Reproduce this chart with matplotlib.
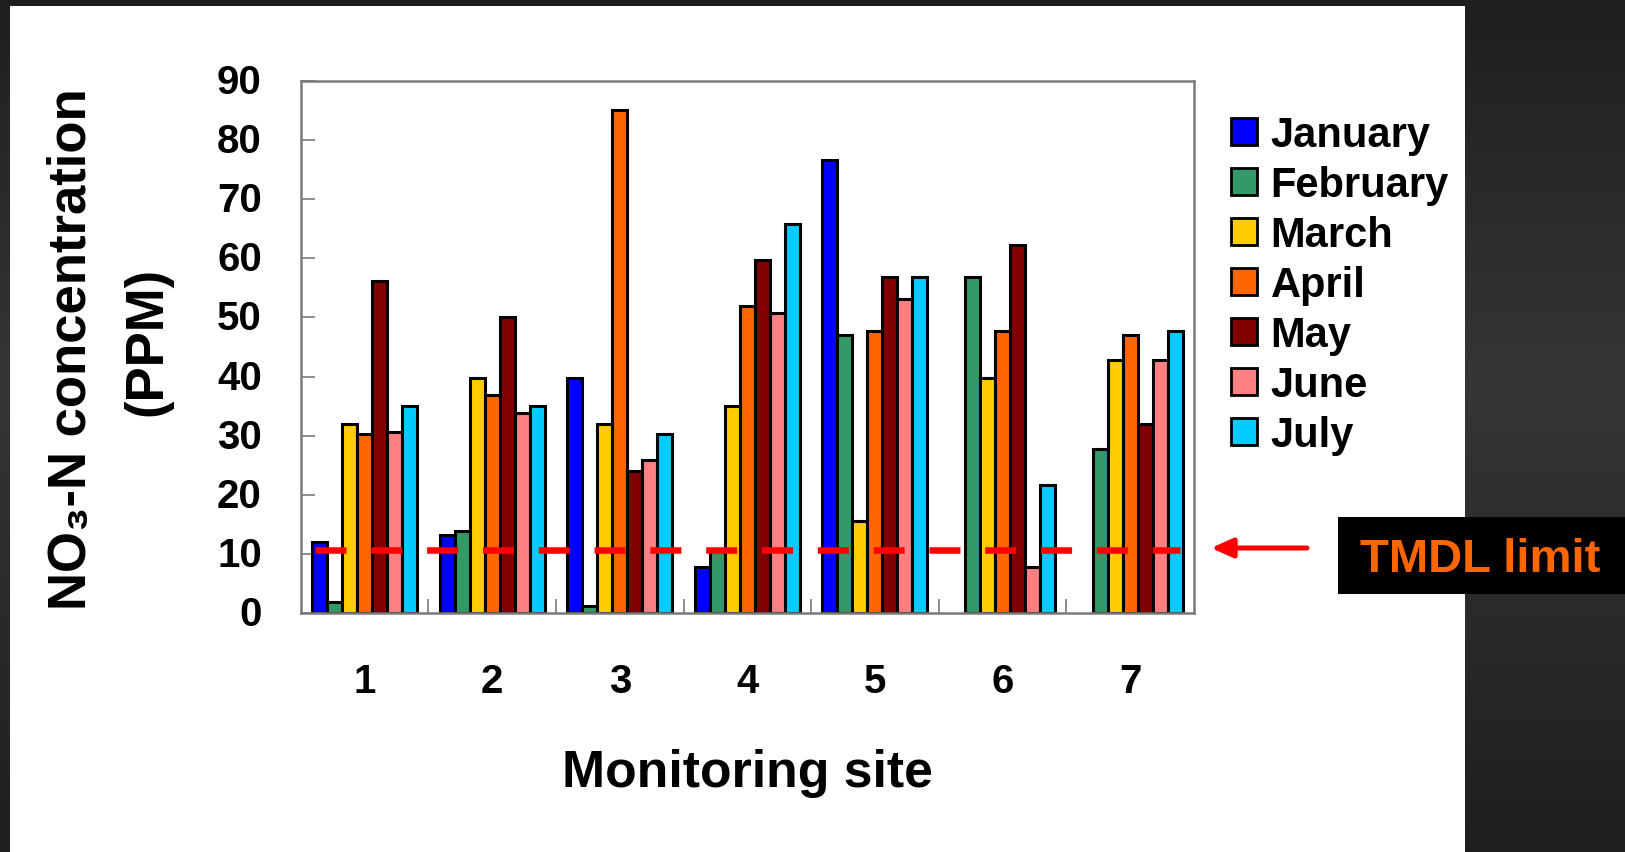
import numpy as np
import matplotlib
matplotlib.use("Agg")
import matplotlib.pyplot as plt
import matplotlib.patches as mpatches
from matplotlib.transforms import ScaledTranslation

# NO3-N readings (ppm) per monitoring site, one list per month
sites = ["1", "2", "3", "4", "5", "6", "7"]
months = ["January", "February", "March", "April", "May", "June", "July"]
jan = [12.0, 13.2, 39.8, 7.8, 76.7, np.nan, np.nan]
feb = [1.8, 13.8, 1.2, 10.6, 47.0, 56.8, 27.7]
mar = [32.0, 39.8, 32.0, 35.0, 15.5, 39.8, 42.8]
apr = [30.2, 36.8, 85.1, 51.9, 47.7, 47.7, 47.0]
may = [56.2, 50.1, 24.1, 59.8, 56.8, 62.2, 32.0]
jun = [30.7, 33.8, 25.9, 50.7, 53.1, 7.8, 42.8]
jul = [35.0, 35.0, 30.2, 65.8, 56.8, 21.7, 47.7]
series = [jan, feb, mar, apr, may, jun, jul]
colors = ["#0000FF", "#339966", "#FFCC00", "#FF6600", "#800000", "#FF8080", "#00CCFF"]
tmdl = 10.7
yticks = [0, 10, 20, 30, 40, 50, 60, 70, 80, 90]

W, H = 1625, 853
fig = plt.figure(figsize=(W / 100, H / 100), dpi=100)

# slide background: dark gradient with a white panel
bg = fig.add_axes([0, 0, 1, 1], zorder=-10)
rows = np.linspace(0, 1, 200)
shade = np.interp(rows, [0, 0.45, 1], [0.12, 0.21, 0.12])
grad = np.repeat(shade[:, None], 3, axis=1)[:, None, :]
bg.imshow(grad, aspect="auto", extent=[0, 1, 0, 1], origin="upper")
bg.add_patch(mpatches.Rectangle((10 / W, 0), (1465 - 10) / W, 1 - 7 / H,
                                facecolor="white", edgecolor="none"))
bg.set_xlim(0, 1)
bg.set_ylim(0, 1)
bg.axis("off")

ax = fig.add_axes([300.7 / W, 1 - 614 / H, (1194 - 300.7) / W, (614 - 82) / H])
ax.set_facecolor("none")

x = np.arange(1, len(sites) + 1)
width = 0.1175
for i, (vals, col, name) in enumerate(zip(series, colors, months)):
    ax.bar(x + (i - 3) * width, vals, width, color=col, edgecolor="black",
           linewidth=2.2, label=name, zorder=2)

ax.axhline(tmdl, xmin=0.016, xmax=0.984, color="#FF0000", lw=4.7,
           dashes=(4.75, 3.8), solid_capstyle="butt", dash_capstyle="butt", zorder=3)

ax.set_xlim(0.5, 7.5)
ax.set_ylim(0, 90)
for s in ax.spines.values():
    s.set_color("#7a7a7a")
    s.set_linewidth(1.8)

tick_font = dict(family="Liberation Sans", weight="bold", size=29)
ax.set_yticks(yticks)
ax.set_yticklabels([str(v) for v in yticks], **tick_font)
ax.tick_params(axis="y", direction="in", length=10, width=1.2, color="#7a7a7a", pad=28)
for lab in ax.get_yticklabels():
    lab.set_transform(lab.get_transform() + ScaledTranslation(0, 3 / 100, fig.dpi_scale_trans))

ax.set_xticks(x)
ax.set_xticklabels(sites, **tick_font)
ax.set_xticks(x[:-1] + 0.5, minor=True)
ax.tick_params(axis="x", which="major", length=0, pad=35)
ax.tick_params(axis="x", which="minor", direction="in", length=10, width=1.2, color="#7a7a7a")

ax.set_xlabel("Monitoring site", family="Liberation Sans", weight="bold", size=37.3)
ax.xaxis.set_label_coords(0.5, -0.253)

ylab_font = dict(family=["Liberation Sans", "DejaVu Sans"], weight="bold", size=38)
fig.text(72 / W, 1 - 349 / H, "NO\u2083-N concentration", rotation=90,
         ha="center", va="center", **ylab_font)
fig.text(147 / W, 1 - 341 / H, "(PPM)", rotation=90,
         ha="center", va="center", **ylab_font)

handles = [mpatches.Patch(facecolor=c, edgecolor="black", linewidth=2) for c in colors]
fig.legend(handles, months, loc="upper left", bbox_to_anchor=(1231 / W, 1 - 115.8 / H),
           frameon=False, borderpad=0, borderaxespad=0, handlelength=0.62,
           handleheight=0.62, handletextpad=0.33, labelspacing=0.24,
           prop=dict(family="Liberation Sans", weight="bold", size=30))

# TMDL callout box and arrow
bg.add_patch(mpatches.Rectangle((1338 / W, 1 - 595 / H), (1625 - 1338) / W, (595 - 518) / H,
                                facecolor="black", edgecolor="none", zorder=5))
fig.text(1480 / W, 1 - 560 / H, "TMDL limit", ha="center", va="center",
         color="#FF6600", family="Liberation Sans", weight="bold", size=34)
bg.annotate("", xy=(1211, H - 549), xytext=(1307, H - 549),
            xycoords="figure pixels", textcoords="figure pixels",
            arrowprops=dict(arrowstyle="-|>,head_length=1.3,head_width=0.58",
                            color="#FF0000", lw=3.6, shrinkA=0, shrinkB=0))

fig.savefig("out.png", dpi=100)
